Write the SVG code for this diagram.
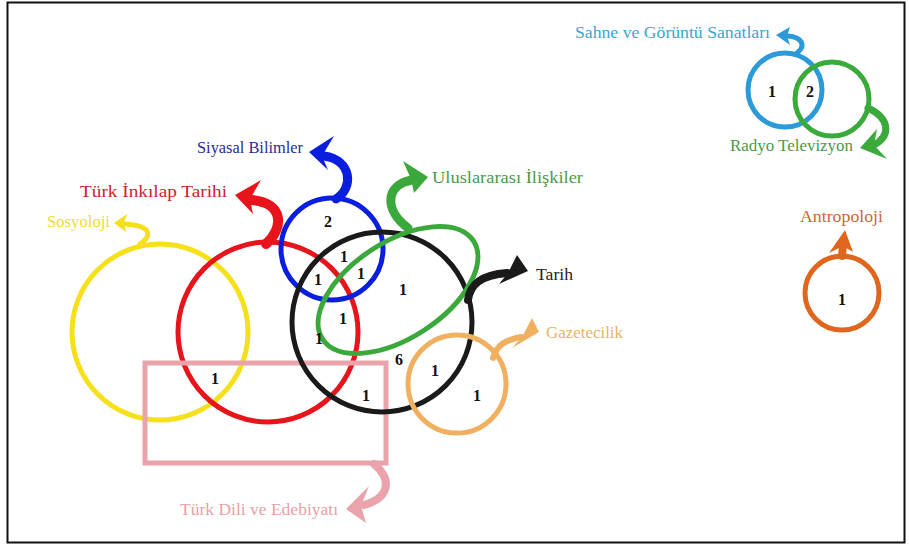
<svg xmlns="http://www.w3.org/2000/svg" width="909" height="547" viewBox="0 0 909 547">
<style>
.ring{fill:none}
.lbl{font-family:"Liberation Serif","DejaVu Serif",serif;font-size:16px}
.num{font-family:"Liberation Serif","DejaVu Serif",serif;font-size:16px;font-weight:bold;fill:#111;text-anchor:middle}
.shaft{fill:none;stroke-linecap:round}
</style>
<rect x="7.5" y="2.5" width="897" height="540" fill="#fff" stroke="#111" stroke-width="2"/>

<g id="sosyoloji">
<circle class="ring" cx="160" cy="332" r="88" stroke="#f6e01c" stroke-width="5"/>
<text class="lbl" x="47" y="227" fill="#f0dc30" textLength="63" lengthAdjust="spacingAndGlyphs">Sosyoloji</text>
</g>
<g id="inkilap">
<circle class="ring" cx="268" cy="332" r="90" stroke="#e8141b" stroke-width="5"/>
<text class="lbl" x="80" y="197" fill="#c8262a" textLength="147" lengthAdjust="spacingAndGlyphs">Türk İnkılap Tarihi</text>
</g>
<g id="edebiyat">
<rect class="ring" x="145" y="363" width="241" height="100" stroke="#eaa3aa" stroke-width="5"/>
<text class="lbl" x="180" y="515" fill="#e8a0a6" textLength="158" lengthAdjust="spacingAndGlyphs">Türk Dili ve Edebiyatı</text>
</g>
<g id="siyasal">
<circle class="ring" cx="332" cy="249" r="51" stroke="#0a1ee0" stroke-width="5"/>
<text class="lbl" x="197" y="153" fill="#2a2a96" textLength="106" lengthAdjust="spacingAndGlyphs">Siyasal Bilimler</text>
</g>
<g id="tarih">
<circle class="ring" cx="382" cy="322" r="90" stroke="#1a1a1a" stroke-width="5"/>
<text class="lbl" x="536" y="280" fill="#222" textLength="37" lengthAdjust="spacingAndGlyphs">Tarih</text>
</g>
<g id="uluslararasi">
<ellipse class="ring" cx="398" cy="290" rx="90" ry="48" transform="rotate(-33 398 290)" stroke="#3aa83a" stroke-width="5"/>
<text class="lbl" x="432" y="183" fill="#4a9a4a" textLength="151" lengthAdjust="spacingAndGlyphs">Uluslararası İlişkiler</text>
</g>
<g id="gazetecilik">
<circle class="ring" cx="457" cy="384" r="49" stroke="#f0b060" stroke-width="5"/>
<text class="lbl" x="546" y="338" fill="#e8b464" textLength="77" lengthAdjust="spacingAndGlyphs">Gazetecilik</text>
</g>
<g id="sahne">
<circle class="ring" cx="785" cy="90" r="37" stroke="#2a9ad8" stroke-width="5"/>
<text class="lbl" x="575" y="38" fill="#3aa6d0" textLength="195" lengthAdjust="spacingAndGlyphs">Sahne ve Görüntü Sanatları</text>
</g>
<g id="radyo">
<circle class="ring" cx="832" cy="99" r="37" stroke="#3aaa3a" stroke-width="5"/>
<text class="lbl" x="730" y="151" fill="#4a9a4a" textLength="123" lengthAdjust="spacingAndGlyphs">Radyo Televizyon</text>
</g>
<g id="antropoloji">
<circle class="ring" cx="842" cy="293" r="37" stroke="#e0661e" stroke-width="5"/>
<text class="lbl" x="800" y="222" fill="#d06434" textLength="83" lengthAdjust="spacingAndGlyphs">Antropoloji</text>
</g>

<g id="connectors">
<path class="shaft" d="M140,244 C152,236 152,226 126,224" stroke="#f6e01c" stroke-width="5"/>
<polygon points="114,223 127,214 124,223 126,232" fill="#f6e01c"/>
<path class="shaft" d="M266,244 C284,228 284,203 252,200" stroke="#e8141b" stroke-width="10"/>
<polygon points="235,195 261,180 250,199 253,214" fill="#e8141b"/>
<path class="shaft" d="M336,199 C354,188 352,160 324,156" stroke="#0a1ee0" stroke-width="9"/>
<polygon points="309,152 334,136 322,156 328,170" fill="#0a1ee0"/>
<path class="shaft" d="M408,228 C384,210 385,185 412,180" stroke="#3aa83a" stroke-width="9"/>
<polygon points="428,177 403,161 411,179 414,193" fill="#3aa83a"/>
<path class="shaft" d="M468,300 C470,285 480,275 507,273" stroke="#1a1a1a" stroke-width="8"/>
<polygon points="528,271 517,255 508,273 499,284" fill="#1a1a1a"/>
<path class="shaft" d="M493,358 C497,345 505,340 521,337" stroke="#f0b060" stroke-width="6"/>
<polygon points="539,332 532,318 522,337 512,348" fill="#f0b060"/>
<path class="shaft" d="M374,464 C393,480 389,498 364,505" stroke="#eaa3aa" stroke-width="8"/>
<polygon points="346,509 369,486 361,506 366,523" fill="#eaa3aa"/>
<path class="shaft" d="M797,53 C807,45 801,37 788,36" stroke="#2a9ad8" stroke-width="5"/>
<polygon points="776,35 790,27 787,36 790,45" fill="#2a9ad8"/>
<path class="shaft" d="M868,108 C889,118 892,135 874,145" stroke="#3aaa3a" stroke-width="7"/>
<polygon points="860,148 877,129 874,145 887,159" fill="#3aaa3a"/>
<path class="shaft" d="M842,256 L843,245" stroke="#e0661e" stroke-width="8"/>
<polygon points="845,230 829,253 843,246 853,252" fill="#e0661e"/>
</g>

<g id="counts">
<text class="num" x="772" y="97">1</text>
<text class="num" x="810" y="97">2</text>
<text class="num" x="328" y="227">2</text>
<text class="num" x="344" y="262">1</text>
<text class="num" x="318" y="285">1</text>
<text class="num" x="361" y="279">1</text>
<text class="num" x="403" y="295">1</text>
<text class="num" x="343" y="324">1</text>
<text class="num" x="319" y="344">1</text>
<text class="num" x="399" y="365">6</text>
<text class="num" x="215" y="384">1</text>
<text class="num" x="366" y="401">1</text>
<text class="num" x="435" y="376">1</text>
<text class="num" x="477" y="401">1</text>
<text class="num" x="842" y="305">1</text>
</g>
</svg>
